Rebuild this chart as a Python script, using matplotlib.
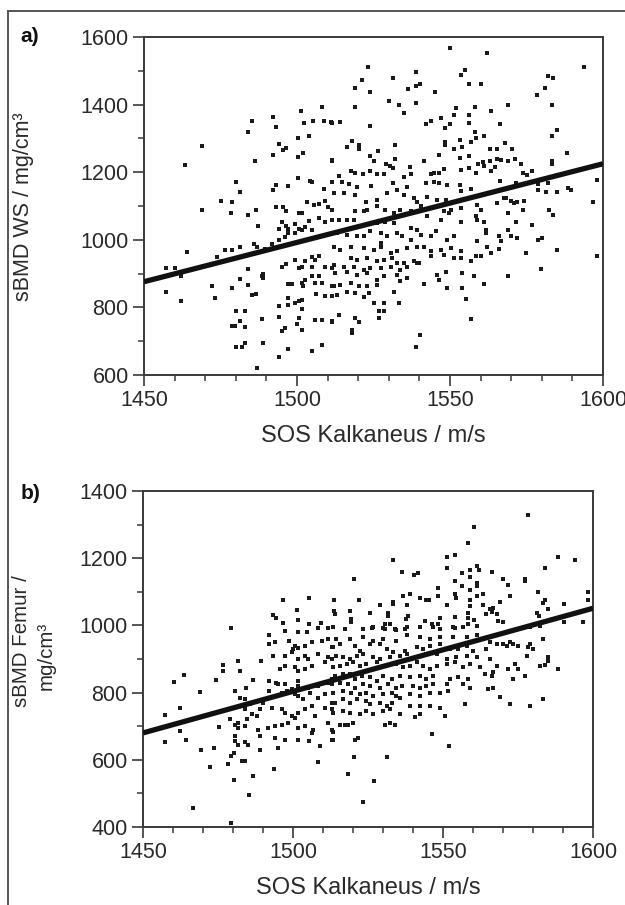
import numpy as np
import matplotlib
matplotlib.use("Agg")
import matplotlib.pyplot as plt
from matplotlib.ticker import MultipleLocator
from matplotlib.lines import Line2D

plt.rcParams['font.family'] = ['Liberation Sans', 'DejaVu Sans']

# ---------------- Panel a: SOS Kalkaneus vs sBMD WS ----------------
pts_a_upper_left = [
    (1463.4, 1222), (1468.9, 1278), (1480.1, 1170), (1483.9, 1318), (1485.2, 1352), (1486.3, 1233),
    (1492.0, 1364), (1492.0, 1250), (1493.3, 1335), (1494.0, 1283), (1495.3, 1267), (1496.4, 1273),
    (1500.2, 1302), (1500.2, 1245), (1501.4, 1380), (1501.8, 1258), (1502.3, 1345), (1503.9, 1307),
    (1505.1, 1352), (1508.3, 1392), (1508.8, 1352), (1511.4, 1345), (1511.4, 1233), (1500.2, 1182),
    (1493.3, 1162), (1497.0, 1160), (1504.9, 1170), (1504.4, 1175), (1511.4, 1172),
]
pts_a_upper_right = [
    (1550.0, 1568), (1562.0, 1552), (1523.2, 1512), (1593.9, 1512), (1521.3, 1473), (1531.4, 1478),
    (1539.0, 1495), (1553.7, 1489), (1555.0, 1502), (1556.3, 1460), (1560.1, 1460), (1581.9, 1484),
    (1583.8, 1478), (1518.9, 1450), (1523.9, 1438), (1536.3, 1445), (1539.0, 1454), (1540.2, 1460),
    (1545.2, 1438), (1581.2, 1450), (1578.3, 1427), (1530.1, 1410), (1533.3, 1398), (1535.1, 1376),
    (1539.0, 1404), (1518.9, 1393), (1551.9, 1389), (1558.1, 1393), (1563.3, 1380), (1569.0, 1398),
    (1583.2, 1398), (1551.4, 1369), (1556.3, 1369), (1543.9, 1352), (1547.0, 1359), (1542.0, 1342),
    (1550.0, 1342), (1548.3, 1332), (1556.3, 1346), (1566.4, 1342), (1523.9, 1336), (1511.2, 1348),
    (1514.0, 1348), (1585.1, 1325), (1583.2, 1308), (1558.1, 1319), (1561.2, 1308), (1553.3, 1295),
    (1556.9, 1290), (1558.6, 1302), (1516.4, 1275), (1518.1, 1292), (1520.1, 1280), (1520.1, 1269),
    (1532.0, 1279), (1548.3, 1290), (1548.3, 1280), (1551.4, 1269), (1553.8, 1275), (1563.2, 1269),
    (1565.2, 1269), (1568.1, 1285), (1570.1, 1269), (1588.2, 1257), (1523.9, 1248), (1525.3, 1234),
    (1526.4, 1262), (1532.0, 1239), (1541.6, 1234), (1546.4, 1252), (1553.3, 1241), (1556.3, 1247),
    (1559.0, 1225), (1560.7, 1229), (1563.2, 1234), (1565.2, 1239), (1566.6, 1235), (1568.9, 1234),
    (1571.4, 1239), (1573.3, 1225), (1583.2, 1233), (1583.2, 1225), (1511.4, 1235), (1529.0, 1223),
    (1530.3, 1217), (1531.4, 1212), (1536.9, 1215), (1537.4, 1195), (1543.7, 1195), (1544.9, 1198),
    (1546.5, 1198), (1548.0, 1209), (1553.7, 1207), (1556.3, 1213), (1558.6, 1198), (1561.2, 1217),
    (1563.4, 1205), (1564.6, 1215), (1573.7, 1198), (1576.9, 1205), (1575.3, 1192), (1598.2, 1177),
    (1517.5, 1203), (1519.1, 1198), (1521.5, 1195), (1524.0, 1205), (1526.2, 1195), (1528.4, 1195),
    (1534.9, 1186), (1513.6, 1190), (1514.7, 1170), (1516.9, 1165), (1519.6, 1155), (1524.2, 1160),
    (1531.4, 1169), (1536.0, 1155), (1542.1, 1167), (1544.7, 1170), (1546.5, 1169), (1549.1, 1161),
    (1553.3, 1161), (1556.8, 1151), (1566.4, 1175), (1571.6, 1167), (1578.6, 1165), (1581.9, 1169),
    (1588.4, 1154), (1589.5, 1147),
]
pts_a_lower_left = [
    (1481.4, 1140), (1492.0, 1146), (1508.8, 1150), (1475.2, 1116), (1478.7, 1111), (1468.9, 1089),
    (1478.4, 1078), (1483.9, 1072), (1486.5, 1089), (1493.3, 1097), (1495.3, 1097), (1496.4, 1084),
    (1503.2, 1111), (1505.4, 1104), (1507.1, 1107), (1509.0, 1116), (1510.1, 1097), (1511.4, 1089),
    (1487.1, 1040), (1494.0, 1033), (1495.1, 1052), (1496.4, 1040), (1497.2, 1033), (1499.4, 1047),
    (1500.5, 1078), (1501.6, 1078), (1503.8, 1057), (1504.9, 1030), (1507.1, 1064), (1509.3, 1052),
    (1511.4, 1058), (1497.0, 1020), (1499.4, 1020), (1500.5, 1033), (1501.6, 1030), (1502.7, 1038),
    (1463.9, 964), (1457.2, 918), (1460.1, 918), (1462.1, 892), (1473.9, 948), (1476.5, 969),
    (1478.7, 969), (1481.4, 979), (1486.1, 989), (1486.9, 980), (1489.4, 974), (1491.8, 987),
    (1494.0, 1000), (1496.2, 1008), (1498.3, 989), (1483.9, 914), (1481.4, 885), (1478.7, 856),
    (1472.1, 862), (1473.3, 829), (1483.9, 867), (1485.2, 837), (1486.5, 840), (1488.5, 894),
    (1488.9, 899), (1488.9, 888), (1495.1, 919), (1496.4, 928), (1499.4, 940), (1500.5, 916),
    (1501.6, 921), (1502.7, 936), (1504.9, 948), (1506.0, 941), (1507.1, 951), (1504.9, 921),
    (1507.1, 892), (1509.3, 921), (1511.4, 916), (1497.2, 869), (1498.3, 869), (1501.6, 872),
    (1501.8, 862), (1502.7, 882), (1504.9, 892), (1506.0, 872), (1508.2, 872), (1511.4, 862),
    (1457.2, 846), (1462.1, 818), (1480.1, 790), (1483.1, 790), (1497.0, 829), (1497.0, 808),
    (1499.4, 813), (1500.5, 818), (1501.6, 823), (1494.0, 803), (1501.6, 795), (1506.3, 840),
    (1509.3, 835), (1511.4, 835), (1478.7, 746), (1479.8, 746), (1481.4, 761), (1483.1, 742),
    (1488.5, 767), (1494.0, 773), (1496.2, 740), (1500.1, 752), (1500.5, 768), (1501.6, 734),
    (1506.0, 763), (1508.2, 763), (1511.4, 761), (1480.1, 683), (1482.0, 683), (1483.1, 696),
    (1488.9, 696), (1497.0, 678), (1504.9, 672), (1508.2, 689), (1495.1, 730), (1494.0, 652),
    (1487.0, 622),
]
pts_a_lower_right = [
    (1512.0, 1138), (1515.3, 1138), (1519.1, 1133), (1522.4, 1113), (1526.2, 1118), (1529.5, 1138),
    (1532.7, 1148), (1534.9, 1133), (1538.2, 1123), (1539.3, 1113), (1542.6, 1128), (1545.8, 1118),
    (1548.6, 1118), (1553.5, 1143), (1567.7, 1123), (1569.9, 1116), (1572.0, 1113), (1574.2, 1116),
    (1578.6, 1146), (1581.3, 1140), (1585.1, 1140), (1596.6, 1111), (1519.1, 1084), (1521.8, 1084),
    (1522.9, 1089), (1526.2, 1099), (1528.9, 1089), (1531.6, 1079), (1533.8, 1089), (1537.1, 1084),
    (1540.4, 1099), (1543.7, 1094), (1548.0, 1084), (1550.2, 1089), (1553.5, 1094), (1558.9, 1104),
    (1560.0, 1089), (1565.5, 1108), (1568.2, 1123), (1568.8, 1079), (1570.9, 1110), (1573.7, 1089),
    (1582.4, 1089), (1583.5, 1072), (1576.9, 1044), (1513.6, 1059), (1516.4, 1059), (1518.5, 1059),
    (1526.2, 1049), (1528.9, 1054), (1531.6, 1049), (1537.1, 1035), (1539.3, 1030), (1542.6, 1069),
    (1546.9, 1059), (1549.7, 1079), (1553.5, 1054), (1558.9, 1059), (1558.4, 1069), (1561.1, 1054),
    (1561.7, 1030), (1561.7, 1020), (1568.8, 1030), (1571.5, 1054), (1513.1, 1020), (1516.4, 1015),
    (1519.6, 1010), (1521.8, 1010), (1524.0, 1025), (1527.3, 1020), (1527.3, 990), (1529.5, 1010),
    (1532.7, 1020), (1534.4, 1010), (1537.1, 1000), (1540.4, 1015), (1543.7, 1010), (1545.3, 1025),
    (1549.1, 1000), (1551.3, 1010), (1558.9, 995), (1562.2, 980), (1566.0, 1010), (1566.6, 995),
    (1569.9, 1010), (1572.0, 1005), (1578.6, 1000), (1580.2, 1005), (1512.0, 980), (1514.2, 970),
    (1517.5, 980), (1521.8, 975), (1525.1, 970), (1527.3, 980), (1530.6, 961), (1532.7, 966),
    (1536.0, 975), (1539.3, 980), (1541.5, 980), (1543.7, 966), (1546.9, 970), (1550.2, 975),
    (1553.5, 966), (1566.0, 972), (1563.3, 961), (1574.8, 961), (1585.1, 970), (1598.2, 953),
    (1517.5, 946), (1519.6, 941), (1522.9, 946), (1526.2, 936), (1528.4, 941), (1531.1, 946),
    (1532.7, 931), (1534.9, 931), (1538.2, 936), (1539.8, 931), (1543.7, 951), (1548.0, 956),
    (1551.3, 946), (1553.5, 946), (1556.8, 936), (1558.4, 951), (1560.0, 951), (1512.0, 926),
    (1515.3, 921), (1518.5, 921), (1521.8, 911), (1524.0, 916), (1527.3, 916), (1530.6, 921),
    (1533.8, 911), (1536.0, 921), (1539.3, 931), (1545.8, 897), (1548.6, 906), (1554.0, 901),
    (1557.8, 892), (1568.8, 892), (1579.9, 914), (1512.5, 901), (1516.4, 906), (1519.6, 897),
    (1522.9, 901), (1526.2, 882), (1528.4, 892), (1532.7, 897), (1533.8, 877), (1536.0, 887),
    (1541.5, 869), (1546.4, 880), (1549.1, 857), (1554.0, 857), (1561.1, 869), (1512.0, 862),
    (1514.2, 867), (1517.5, 872), (1520.2, 862), (1522.9, 862), (1526.2, 867), (1531.6, 847),
    (1513.1, 837), (1516.4, 847), (1519.1, 842), (1521.8, 832), (1523.5, 842), (1525.1, 813),
    (1528.4, 813), (1533.3, 813), (1555.1, 825), (1526.7, 790), (1528.4, 790), (1513.6, 778),
    (1519.1, 768), (1520.2, 758), (1526.7, 768), (1556.8, 767), (1518.0, 734), (1518.0, 724),
    (1540.2, 717), (1539.0, 684), (1511.4, 758),
]

# ---------------- Panel b: SOS Kalkaneus vs sBMD Femur ----------------
pts_b_upper_left = [
    (1479.2, 993), (1493.4, 1031), (1494.2, 1023), (1496.8, 1076), (1496.8, 1008), (1501.4, 1047),
    (1501.8, 1015), (1505.4, 1081), (1505.4, 1005), (1509.2, 1008), (1511.8, 993), (1513.6, 1075),
    (1513.6, 1043),
]
pts_b_upper_right = [
    (1578.4, 1328), (1560.2, 1294), (1558.3, 1244), (1533.5, 1194), (1551.5, 1205), (1554.0, 1210),
    (1588.3, 1205), (1593.9, 1194), (1520.4, 1138), (1536.5, 1160), (1540.3, 1149), (1541.7, 1155),
    (1551.5, 1172), (1556.5, 1155), (1559.0, 1166), (1561.3, 1177), (1562.0, 1166), (1566.4, 1160),
    (1583.9, 1172), (1577.2, 1138), (1577.2, 1131), (1570.1, 1138), (1571.6, 1121), (1554.0, 1132),
    (1556.5, 1116), (1559.0, 1143), (1561.3, 1127), (1561.3, 1116), (1548.4, 1110), (1548.4, 1088),
    (1561.3, 1088), (1563.4, 1093), (1559.0, 1105), (1559.1, 1077), (1554.0, 1093), (1554.5, 1083),
    (1536.7, 1088), (1539.0, 1093), (1542.3, 1082), (1544.5, 1076), (1545.2, 1076), (1522.1, 1076),
    (1533.4, 1071), (1533.4, 1063), (1538.1, 1061), (1529.0, 1060), (1551.5, 1060), (1559.0, 1057),
    (1563.4, 1062), (1566.7, 1053), (1569.0, 1071), (1572.3, 1088), (1581.6, 1099), (1583.9, 1075),
    (1583.4, 1068), (1585.1, 1048), (1590.2, 1065), (1598.2, 1099), (1598.2, 1076), (1525.6, 1038),
    (1514.0, 1035), (1519.0, 1043), (1519.2, 1018), (1519.2, 1011), (1531.7, 1038), (1531.7, 1027),
    (1538.4, 1027), (1537.6, 1018), (1530.6, 1005), (1532.3, 1005), (1544.0, 1013), (1546.2, 1005),
    (1548.4, 1005), (1549.0, 1023), (1554.0, 1026), (1558.3, 1038), (1558.3, 1023), (1558.3, 1005),
    (1560.5, 1016), (1565.6, 1049), (1566.5, 1040), (1564.5, 1033), (1567.9, 1033), (1568.5, 1013),
    (1570.1, 1011), (1581.2, 1038), (1582.1, 1028), (1590.2, 1010), (1596.7, 1010), (1526.5, 993),
    (1530.1, 993), (1534.1, 988), (1537.3, 988), (1554.0, 993),
]
pts_b_lower_left = [
    (1492.0, 972), (1497.3, 983), (1501.8, 980), (1504.6, 980), (1508.4, 992), (1492.0, 945),
    (1494.0, 950), (1498.7, 955), (1500.7, 940), (1500.0, 930), (1501.8, 933), (1504.0, 940),
    (1506.2, 952), (1509.6, 955), (1511.8, 960), (1512.9, 935), (1493.4, 910), (1497.3, 908),
    (1499.6, 920), (1501.8, 900), (1504.0, 910), (1505.1, 900), (1508.4, 915), (1511.8, 905),
    (1481.8, 895), (1476.7, 882), (1476.7, 865), (1489.2, 895), (1482.3, 865), (1495.7, 870),
    (1497.3, 880), (1500.7, 875), (1501.8, 865), (1504.0, 870), (1506.2, 880), (1510.7, 890),
    (1512.9, 900), (1463.7, 853), (1460.4, 832), (1474.3, 838), (1486.8, 838), (1492.0, 835),
    (1494.2, 828), (1495.1, 825), (1497.3, 825), (1501.8, 835), (1501.8, 820), (1505.1, 815),
    (1508.4, 820), (1511.8, 830), (1512.9, 840), (1469.1, 803), (1480.7, 805), (1484.2, 815),
    (1482.3, 785), (1484.0, 780), (1492.0, 805), (1490.7, 780), (1496.2, 800), (1497.9, 805),
    (1499.6, 810), (1500.7, 795), (1501.8, 790), (1503.4, 780), (1505.7, 800), (1508.4, 785),
    (1510.7, 795), (1512.9, 770), (1462.3, 754), (1457.3, 732), (1462.3, 685), (1485.7, 765),
    (1490.1, 770), (1489.0, 750), (1484.0, 750), (1486.2, 737), (1487.9, 730), (1484.6, 720),
    (1481.8, 710), (1479.0, 720), (1492.9, 755), (1496.2, 750), (1497.3, 738), (1499.6, 730),
    (1500.7, 725), (1501.8, 740), (1504.0, 750), (1506.2, 760), (1507.3, 730), (1510.7, 755),
    (1512.9, 750), (1475.4, 698), (1480.7, 703), (1481.8, 695), (1484.0, 702), (1488.4, 690),
    (1491.8, 695), (1494.0, 700), (1496.2, 705), (1498.4, 710), (1501.8, 695), (1504.0, 700),
    (1506.8, 690), (1511.8, 710), (1512.9, 690), (1457.3, 653), (1464.2, 658), (1469.3, 630),
    (1473.8, 636), (1480.7, 670), (1480.7, 655), (1481.8, 644), (1484.0, 652), (1484.9, 644),
    (1488.9, 670), (1489.0, 630), (1494.0, 665), (1495.1, 635), (1497.3, 660), (1501.8, 660),
    (1505.4, 655), (1506.2, 680), (1509.0, 642), (1512.9, 660), (1479.2, 610), (1480.4, 620),
    (1482.9, 595), (1484.0, 597), (1478.4, 587), (1486.8, 552), (1472.3, 580), (1493.8, 574),
    (1508.4, 592), (1480.3, 540), (1485.4, 495), (1466.8, 457), (1479.2, 412),
]
pts_b_lower_right = [
    (1513.4, 995), (1517.3, 990), (1523.4, 988), (1526.7, 995), (1530.6, 990), (1534.5, 985),
    (1537.9, 995), (1542.3, 995), (1546.7, 995), (1549.0, 990), (1553.4, 995), (1556.7, 995),
    (1561.2, 998), (1579.0, 995), (1582.3, 998), (1514.5, 960), (1519.0, 960), (1523.4, 965),
    (1526.7, 955), (1530.1, 960), (1534.5, 955), (1537.9, 970), (1542.3, 965), (1545.6, 960),
    (1549.0, 965), (1553.4, 965), (1557.9, 965), (1561.2, 970), (1565.6, 950), (1570.1, 945),
    (1572.3, 950), (1575.1, 940), (1579.0, 945), (1583.4, 960), (1513.4, 935), (1515.6, 945),
    (1520.6, 940), (1522.3, 925), (1525.6, 945), (1529.0, 945), (1531.2, 930), (1533.4, 920),
    (1537.3, 925), (1541.2, 935), (1543.4, 930), (1545.6, 940), (1549.0, 945), (1552.3, 930),
    (1555.1, 930), (1557.9, 940), (1560.1, 925), (1564.5, 930), (1567.9, 945), (1571.2, 940),
    (1573.4, 945), (1578.4, 935), (1580.1, 930), (1514.5, 910), (1516.7, 905), (1519.0, 900),
    (1521.2, 910), (1523.4, 915), (1526.7, 905), (1529.0, 900), (1532.3, 905), (1535.6, 910),
    (1537.9, 915), (1541.2, 905), (1544.5, 915), (1547.9, 915), (1551.2, 900), (1554.5, 905),
    (1557.9, 910), (1561.2, 905), (1565.6, 900), (1577.9, 910), (1585.1, 905), (1585.1, 895),
    (1513.4, 875), (1515.6, 880), (1517.9, 885), (1520.1, 890), (1522.3, 880), (1524.5, 885),
    (1527.9, 890), (1530.1, 880), (1534.5, 885), (1536.7, 875), (1539.0, 880), (1541.2, 890),
    (1543.4, 880), (1545.6, 870), (1547.9, 880), (1551.2, 885), (1554.0, 890), (1556.7, 875),
    (1559.0, 885), (1562.3, 875), (1567.9, 880), (1571.7, 870), (1574.0, 885), (1575.1, 870),
    (1582.3, 880), (1584.0, 882), (1588.4, 870), (1514.0, 850), (1516.7, 855), (1519.0, 855),
    (1520.6, 840), (1522.9, 850), (1525.6, 845), (1527.9, 835), (1530.1, 850), (1532.9, 840),
    (1535.6, 850), (1539.0, 845), (1542.3, 850), (1544.5, 840), (1546.7, 850), (1552.3, 840),
    (1555.1, 845), (1558.4, 840), (1564.0, 855), (1566.2, 850), (1566.7, 860), (1573.4, 840),
    (1577.3, 850), (1512.9, 825), (1515.6, 830), (1518.4, 825), (1520.6, 815), (1523.4, 825),
    (1525.6, 820), (1529.0, 815), (1531.7, 825), (1534.5, 815), (1536.2, 820), (1540.1, 820),
    (1542.3, 815), (1544.5, 820), (1546.7, 825), (1551.7, 805), (1551.2, 825), (1556.7, 825),
    (1559.0, 815), (1565.1, 810), (1566.7, 815), (1513.4, 800), (1516.7, 805), (1519.5, 800),
    (1522.3, 795), (1524.5, 800), (1526.7, 790), (1530.1, 795), (1532.9, 800), (1534.5, 790),
    (1539.0, 795), (1542.3, 790), (1545.6, 800), (1549.0, 800), (1569.0, 788), (1583.4, 782),
    (1514.0, 770), (1516.7, 780), (1519.0, 770), (1521.2, 780), (1524.5, 775), (1525.6, 765),
    (1529.0, 770), (1531.2, 760), (1532.9, 770), (1535.6, 785), (1539.0, 760), (1542.3, 760),
    (1545.6, 760), (1549.0, 755), (1557.3, 765), (1572.3, 765), (1579.0, 760), (1513.4, 740),
    (1516.7, 745), (1519.0, 740), (1522.3, 735), (1524.5, 745), (1526.7, 735), (1530.1, 745),
    (1532.3, 750), (1535.6, 735), (1540.6, 728), (1542.3, 735), (1550.6, 730), (1515.6, 703),
    (1517.3, 703), (1518.4, 703), (1520.1, 710), (1530.6, 703), (1532.3, 710), (1534.0, 703),
    (1513.4, 682), (1520.6, 658), (1521.7, 664), (1513.4, 658), (1546.4, 676), (1552.1, 642),
    (1520.4, 608), (1531.5, 608), (1518.4, 558), (1527.1, 536), (1523.4, 474),
]

# regression lines (end points)
fit_sos = [1450, 1600]
fit_ws = [876, 1225]
fit_femur = [680, 1051]

x_ticks = [1450, 1500, 1550, 1600]
y_ticks_a = [600, 800, 1000, 1200, 1400, 1600]
y_ticks_b = [400, 600, 800, 1000, 1200, 1400]

W, H = 625, 905
fig = plt.figure(figsize=(W / 100, H / 100), dpi=100)

def px_rect(l, t, r, b):
    return [l / W, 1 - b / H, (r - l) / W, (b - t) / H]

ax_a = fig.add_axes(px_rect(144, 37, 603, 375))
ax_b = fig.add_axes(px_rect(143, 491, 593, 827))

spine_col = '#3a3a3a'
text_col = '#2a2a2a'
dot_col = '#1a1a1a'

def style(ax, yt, ylim):
    ax.set_xlim(1450, 1600)
    ax.set_ylim(*ylim)
    ax.set_xticks(x_ticks)
    ax.set_yticks(yt)
    ax.xaxis.set_minor_locator(MultipleLocator(10))
    ax.yaxis.set_minor_locator(MultipleLocator(100))
    for s in ax.spines.values():
        s.set_color(spine_col)
        s.set_linewidth(1.4)
    ax.tick_params(which='major', direction='out', length=8, width=1.2, color=spine_col,
                   labelsize=15.5, labelcolor=text_col, pad=3)
    ax.tick_params(which='minor', direction='out', length=4, width=1.1, color=spine_col)
    ax.tick_params(top=False, right=False, which='both')
    ax.set_xlabel('SOS Kalkaneus / m/s', fontsize=17, color=text_col, labelpad=10)

def scatter(ax, groups):
    for g in groups:
        arr = np.array(g)
        ax.scatter(arr[:, 0], arr[:, 1], s=6, marker='s', color=dot_col, linewidths=0, zorder=2)

scatter(ax_a, [pts_a_upper_left, pts_a_upper_right, pts_a_lower_left, pts_a_lower_right])
ax_a.plot(fit_sos, fit_ws, color='#111111', lw=3.8, solid_capstyle='butt', zorder=3)
style(ax_a, y_ticks_a, (600, 1600))

scatter(ax_b, [pts_b_upper_left, pts_b_upper_right, pts_b_lower_left, pts_b_lower_right])
ax_b.plot(fit_sos, fit_femur, color='#111111', lw=3.8, solid_capstyle='butt', zorder=3)
style(ax_b, y_ticks_b, (400, 1400))

fig.text(24 / W, 1 - 207 / H, 'sBMD WS / mg/cm³', rotation=90, ha='center', va='center',
         fontsize=15.5, color=text_col)
fig.text(22 / W, 1 - 641 / H, 'sBMD Femur /', rotation=90, ha='center', va='center',
         fontsize=14.8, color=text_col)
fig.text(46 / W, 1 - 656 / H, 'mg/cm³', rotation=90, ha='center', va='center',
         fontsize=14.8, color=text_col)

fig.text(20 / W, 1 - 36 / H, 'a)', fontsize=15, fontweight='bold', ha='left', va='center', color='#111')
fig.text(21 / W, 1 - 493 / H, 'b)', fontsize=15, fontweight='bold', ha='left', va='center', color='#111')

# outer frame (left and top edges)
fig.add_artist(Line2D([8 / W, 8 / W], [0, 1 - 11 / H], transform=fig.transFigure, color='#555', lw=1.4))
fig.add_artist(Line2D([8 / W, 1], [1 - 11 / H, 1 - 11 / H], transform=fig.transFigure, color='#555', lw=1.4))

fig.savefig('out.png', dpi=100)
